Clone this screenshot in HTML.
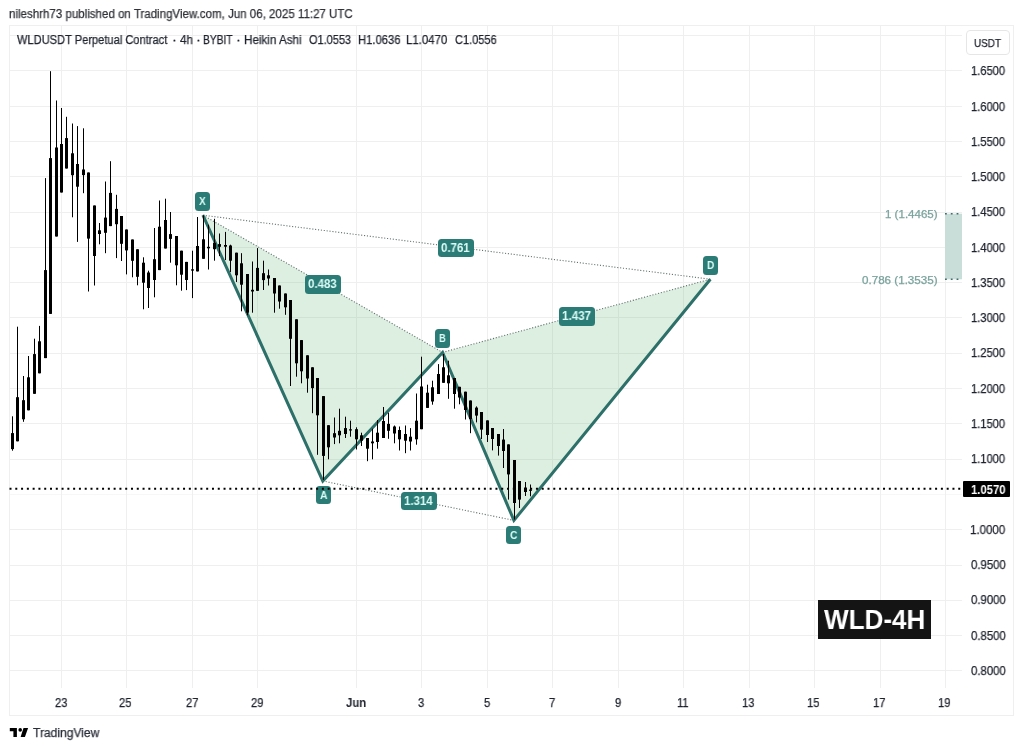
<!DOCTYPE html>
<html><head><meta charset="utf-8"><style>
html,body{margin:0;padding:0;background:#fff;}
body{width:1024px;height:750px;position:relative;overflow:hidden;font-family:"Liberation Sans",sans-serif;}
div{font-family:"Liberation Sans",sans-serif;will-change:transform;}
.lb{position:absolute;background:#2b7b76;border-radius:3.5px;}
</style></head><body>

<svg width="1024" height="750" viewBox="0 0 1024 750" style="position:absolute;left:0;top:0">
<rect x="9.5" y="25.5" width="1004.0" height="690.0" fill="none" stroke="#efefef" stroke-width="1"/>
<defs><clipPath id="pc"><rect x="10" y="26" width="952" height="662"/></clipPath></defs>
<line x1="10" x2="962" y1="35.5" y2="35.5" stroke="#efefef" stroke-width="1"/>
<line x1="10" x2="962" y1="70.5" y2="70.5" stroke="#efefef" stroke-width="1"/>
<line x1="10" x2="962" y1="106.5" y2="106.5" stroke="#efefef" stroke-width="1"/>
<line x1="10" x2="962" y1="141.5" y2="141.5" stroke="#efefef" stroke-width="1"/>
<line x1="10" x2="962" y1="176.5" y2="176.5" stroke="#efefef" stroke-width="1"/>
<line x1="10" x2="962" y1="212.5" y2="212.5" stroke="#efefef" stroke-width="1"/>
<line x1="10" x2="962" y1="247.5" y2="247.5" stroke="#efefef" stroke-width="1"/>
<line x1="10" x2="962" y1="282.5" y2="282.5" stroke="#efefef" stroke-width="1"/>
<line x1="10" x2="962" y1="317.5" y2="317.5" stroke="#efefef" stroke-width="1"/>
<line x1="10" x2="962" y1="353.5" y2="353.5" stroke="#efefef" stroke-width="1"/>
<line x1="10" x2="962" y1="388.5" y2="388.5" stroke="#efefef" stroke-width="1"/>
<line x1="10" x2="962" y1="423.5" y2="423.5" stroke="#efefef" stroke-width="1"/>
<line x1="10" x2="962" y1="459.5" y2="459.5" stroke="#efefef" stroke-width="1"/>
<line x1="10" x2="962" y1="494.5" y2="494.5" stroke="#f7f7f7" stroke-width="1"/>
<line x1="10" x2="962" y1="529.5" y2="529.5" stroke="#efefef" stroke-width="1"/>
<line x1="10" x2="962" y1="565.5" y2="565.5" stroke="#efefef" stroke-width="1"/>
<line x1="10" x2="962" y1="600.5" y2="600.5" stroke="#efefef" stroke-width="1"/>
<line x1="10" x2="962" y1="635.5" y2="635.5" stroke="#efefef" stroke-width="1"/>
<line x1="10" x2="962" y1="670.5" y2="670.5" stroke="#efefef" stroke-width="1"/>
<line x1="61.5" x2="61.5" y1="26" y2="688" stroke="#efefef" stroke-width="1"/>
<line x1="126.5" x2="126.5" y1="26" y2="688" stroke="#efefef" stroke-width="1"/>
<line x1="192.5" x2="192.5" y1="26" y2="688" stroke="#efefef" stroke-width="1"/>
<line x1="257.5" x2="257.5" y1="26" y2="688" stroke="#efefef" stroke-width="1"/>
<line x1="356.5" x2="356.5" y1="26" y2="688" stroke="#efefef" stroke-width="1"/>
<line x1="421.5" x2="421.5" y1="26" y2="688" stroke="#efefef" stroke-width="1"/>
<line x1="487.5" x2="487.5" y1="26" y2="688" stroke="#efefef" stroke-width="1"/>
<line x1="552.5" x2="552.5" y1="26" y2="688" stroke="#efefef" stroke-width="1"/>
<line x1="618.5" x2="618.5" y1="26" y2="688" stroke="#efefef" stroke-width="1"/>
<line x1="683.5" x2="683.5" y1="26" y2="688" stroke="#efefef" stroke-width="1"/>
<line x1="749.5" x2="749.5" y1="26" y2="688" stroke="#efefef" stroke-width="1"/>
<line x1="814.5" x2="814.5" y1="26" y2="688" stroke="#efefef" stroke-width="1"/>
<line x1="880.5" x2="880.5" y1="26" y2="688" stroke="#efefef" stroke-width="1"/>
<line x1="945.5" x2="945.5" y1="26" y2="688" stroke="#efefef" stroke-width="1"/>
<g clip-path="url(#pc)">
<polygon points="202.9,215.2 322.8,481.0 442.6,352.4" fill="rgba(100,180,120,0.22)"/>
<polygon points="442.6,352.4 513.9,520.4 710.4,279.2" fill="rgba(100,180,120,0.22)"/>
<line x1="202.9" y1="215.2" x2="442.6" y2="352.4" stroke="#5f716e" stroke-width="1.1" stroke-dasharray="1.1 1.8"/>
<line x1="442.6" y1="352.4" x2="710.4" y2="279.2" stroke="#5f716e" stroke-width="1.1" stroke-dasharray="1.1 1.8"/>
<line x1="202.9" y1="215.2" x2="710.4" y2="279.2" stroke="#5f716e" stroke-width="1.1" stroke-dasharray="1.1 1.8"/>
<line x1="322.8" y1="481.0" x2="513.9" y2="520.4" stroke="#5f716e" stroke-width="1.1" stroke-dasharray="1.1 1.8"/>
<polyline points="202.9,215.2 322.8,481.0 442.6,352.4 513.9,520.4 710.4,279.2" fill="none" stroke="#2c7069" stroke-width="3" stroke-linejoin="miter"/>
<line x1="12.5" x2="12.5" y1="416.3" y2="450.7" stroke="#000" stroke-width="1"/>
<rect x="11" y="433.1" width="3" height="16.0" fill="#000"/>
<line x1="17.5" x2="17.5" y1="326.7" y2="441.3" stroke="#000" stroke-width="1"/>
<rect x="16" y="397.2" width="3" height="44.1" fill="#000"/>
<line x1="23.5" x2="23.5" y1="376.0" y2="421.8" stroke="#000" stroke-width="1"/>
<rect x="22" y="400.2" width="3" height="19.1" fill="#000"/>
<line x1="28.5" x2="28.5" y1="356.0" y2="410.3" stroke="#000" stroke-width="1"/>
<rect x="27" y="377.3" width="3" height="33.0" fill="#000"/>
<line x1="34.5" x2="34.5" y1="338.7" y2="393.8" stroke="#000" stroke-width="1"/>
<rect x="33" y="354.1" width="3" height="39.7" fill="#000"/>
<line x1="39.5" x2="39.5" y1="325.9" y2="373.3" stroke="#000" stroke-width="1"/>
<rect x="38" y="341.3" width="3" height="32.0" fill="#000"/>
<line x1="45.5" x2="45.5" y1="178.1" y2="358.1" stroke="#000" stroke-width="1"/>
<rect x="44" y="270.1" width="3" height="88.0" fill="#000"/>
<line x1="50.5" x2="50.5" y1="71.2" y2="313.9" stroke="#000" stroke-width="1"/>
<rect x="49" y="158.1" width="3" height="155.8" fill="#000"/>
<line x1="56.5" x2="56.5" y1="100.5" y2="236.5" stroke="#000" stroke-width="1"/>
<rect x="55" y="147.5" width="3" height="89.0" fill="#000"/>
<line x1="61.5" x2="61.5" y1="108.0" y2="192.5" stroke="#000" stroke-width="1"/>
<rect x="60" y="144.0" width="3" height="48.5" fill="#000"/>
<line x1="66.5" x2="66.5" y1="116.8" y2="168.5" stroke="#000" stroke-width="1"/>
<rect x="65" y="138.1" width="3" height="30.4" fill="#000"/>
<line x1="72.5" x2="72.5" y1="123.5" y2="217.3" stroke="#000" stroke-width="1"/>
<rect x="71" y="153.3" width="3" height="21.9" fill="#000"/>
<line x1="77.5" x2="77.5" y1="126.1" y2="241.9" stroke="#000" stroke-width="1"/>
<rect x="76" y="164.0" width="3" height="22.7" fill="#000"/>
<line x1="83.5" x2="83.5" y1="128.3" y2="193.2" stroke="#000" stroke-width="1"/>
<rect x="82" y="169.5" width="3" height="5.6" fill="#000"/>
<line x1="88.5" x2="88.5" y1="172.5" y2="291.5" stroke="#000" stroke-width="1"/>
<rect x="87" y="172.5" width="3" height="66.1" fill="#000"/>
<line x1="94.5" x2="94.5" y1="205.5" y2="285.5" stroke="#000" stroke-width="1"/>
<rect x="93" y="205.5" width="3" height="50.5" fill="#000"/>
<line x1="99.5" x2="99.5" y1="223.0" y2="244.3" stroke="#000" stroke-width="1"/>
<rect x="98" y="230.3" width="3" height="3.7" fill="#000"/>
<line x1="105.5" x2="105.5" y1="181.5" y2="253.2" stroke="#000" stroke-width="1"/>
<rect x="104" y="217.6" width="3" height="15.2" fill="#000"/>
<line x1="110.5" x2="110.5" y1="161.2" y2="226.1" stroke="#000" stroke-width="1"/>
<rect x="109" y="192.9" width="3" height="33.2" fill="#000"/>
<line x1="116.5" x2="116.5" y1="194.8" y2="258.1" stroke="#000" stroke-width="1"/>
<rect x="115" y="208.9" width="3" height="15.3" fill="#000"/>
<line x1="121.5" x2="121.5" y1="216.0" y2="261.0" stroke="#000" stroke-width="1"/>
<rect x="120" y="216.0" width="3" height="27.8" fill="#000"/>
<line x1="126.5" x2="126.5" y1="229.5" y2="274.4" stroke="#000" stroke-width="1"/>
<rect x="125" y="229.5" width="3" height="20.9" fill="#000"/>
<line x1="132.5" x2="132.5" y1="239.5" y2="277.3" stroke="#000" stroke-width="1"/>
<rect x="131" y="239.5" width="3" height="21.3" fill="#000"/>
<line x1="137.5" x2="137.5" y1="249.3" y2="285.3" stroke="#000" stroke-width="1"/>
<rect x="136" y="249.3" width="3" height="27.5" fill="#000"/>
<line x1="143.5" x2="143.5" y1="257.3" y2="309.3" stroke="#000" stroke-width="1"/>
<rect x="142" y="262.7" width="3" height="20.0" fill="#000"/>
<line x1="148.5" x2="148.5" y1="270.7" y2="308.0" stroke="#000" stroke-width="1"/>
<rect x="147" y="272.5" width="3" height="15.5" fill="#000"/>
<line x1="154.5" x2="154.5" y1="228.0" y2="297.3" stroke="#000" stroke-width="1"/>
<rect x="153" y="259.2" width="3" height="20.8" fill="#000"/>
<line x1="159.5" x2="159.5" y1="200.5" y2="270.1" stroke="#000" stroke-width="1"/>
<rect x="158" y="226.7" width="3" height="43.4" fill="#000"/>
<line x1="165.5" x2="165.5" y1="198.7" y2="248.5" stroke="#000" stroke-width="1"/>
<rect x="164" y="220.0" width="3" height="28.5" fill="#000"/>
<line x1="170.5" x2="170.5" y1="212.0" y2="262.7" stroke="#000" stroke-width="1"/>
<rect x="169" y="234.1" width="3" height="4.8" fill="#000"/>
<line x1="176.5" x2="176.5" y1="236.0" y2="285.3" stroke="#000" stroke-width="1"/>
<rect x="175" y="236.0" width="3" height="29.3" fill="#000"/>
<line x1="181.5" x2="181.5" y1="250.7" y2="290.7" stroke="#000" stroke-width="1"/>
<rect x="180" y="250.7" width="3" height="24.0" fill="#000"/>
<line x1="186.5" x2="186.5" y1="261.9" y2="290.1" stroke="#000" stroke-width="1"/>
<rect x="185" y="261.9" width="3" height="18.1" fill="#000"/>
<line x1="192.5" x2="192.5" y1="250.7" y2="298.1" stroke="#000" stroke-width="1"/>
<rect x="191" y="269.3" width="3" height="1.3" fill="#000"/>
<line x1="197.5" x2="197.5" y1="217.0" y2="271.4" stroke="#000" stroke-width="1"/>
<rect x="196" y="246.0" width="3" height="25.4" fill="#000"/>
<line x1="203.5" x2="203.5" y1="215.3" y2="258.8" stroke="#000" stroke-width="1"/>
<rect x="202" y="239.3" width="3" height="19.5" fill="#000"/>
<line x1="208.5" x2="208.5" y1="224.7" y2="269.5" stroke="#000" stroke-width="1"/>
<rect x="207" y="246.8" width="3" height="1.5" fill="#000"/>
<line x1="214.5" x2="214.5" y1="218.8" y2="260.7" stroke="#000" stroke-width="1"/>
<rect x="213" y="242.8" width="3" height="6.4" fill="#000"/>
<line x1="219.5" x2="219.5" y1="233.5" y2="256.1" stroke="#000" stroke-width="1"/>
<rect x="218" y="244.1" width="3" height="2.7" fill="#000"/>
<line x1="225.5" x2="225.5" y1="231.9" y2="260.1" stroke="#000" stroke-width="1"/>
<rect x="224" y="245.0" width="3" height="1.7" fill="#000"/>
<line x1="230.5" x2="230.5" y1="244.7" y2="272.1" stroke="#000" stroke-width="1"/>
<rect x="229" y="245.5" width="3" height="15.2" fill="#000"/>
<line x1="236.5" x2="236.5" y1="252.7" y2="282.0" stroke="#000" stroke-width="1"/>
<rect x="235" y="252.7" width="3" height="22.6" fill="#000"/>
<line x1="241.5" x2="241.5" y1="253.2" y2="311.3" stroke="#000" stroke-width="1"/>
<rect x="240" y="263.3" width="3" height="21.4" fill="#000"/>
<line x1="247.5" x2="247.5" y1="274.0" y2="315.3" stroke="#000" stroke-width="1"/>
<rect x="246" y="274.0" width="3" height="38.7" fill="#000"/>
<line x1="252.5" x2="252.5" y1="261.5" y2="312.7" stroke="#000" stroke-width="1"/>
<rect x="251" y="289.8" width="3" height="1.7" fill="#000"/>
<line x1="257.5" x2="257.5" y1="248.1" y2="290.8" stroke="#000" stroke-width="1"/>
<rect x="256" y="267.9" width="3" height="22.9" fill="#000"/>
<line x1="263.5" x2="263.5" y1="260.7" y2="290.0" stroke="#000" stroke-width="1"/>
<rect x="262" y="273.2" width="3" height="6.9" fill="#000"/>
<line x1="268.5" x2="268.5" y1="269.5" y2="285.5" stroke="#000" stroke-width="1"/>
<rect x="267" y="275.3" width="3" height="3.2" fill="#000"/>
<line x1="274.5" x2="274.5" y1="278.0" y2="312.7" stroke="#000" stroke-width="1"/>
<rect x="273" y="278.0" width="3" height="15.5" fill="#000"/>
<line x1="279.5" x2="279.5" y1="285.5" y2="308.7" stroke="#000" stroke-width="1"/>
<rect x="278" y="285.5" width="3" height="16.0" fill="#000"/>
<line x1="285.5" x2="285.5" y1="293.5" y2="314.8" stroke="#000" stroke-width="1"/>
<rect x="284" y="293.5" width="3" height="13.8" fill="#000"/>
<line x1="290.5" x2="290.5" y1="300.0" y2="386.0" stroke="#000" stroke-width="1"/>
<rect x="289" y="300.0" width="3" height="38.8" fill="#000"/>
<line x1="296.5" x2="296.5" y1="319.3" y2="376.7" stroke="#000" stroke-width="1"/>
<rect x="295" y="319.3" width="3" height="44.0" fill="#000"/>
<line x1="301.5" x2="301.5" y1="340.1" y2="383.3" stroke="#000" stroke-width="1"/>
<rect x="300" y="340.1" width="3" height="31.2" fill="#000"/>
<line x1="307.5" x2="307.5" y1="355.3" y2="392.7" stroke="#000" stroke-width="1"/>
<rect x="306" y="355.3" width="3" height="23.2" fill="#000"/>
<line x1="312.5" x2="312.5" y1="367.3" y2="413.2" stroke="#000" stroke-width="1"/>
<rect x="311" y="367.3" width="3" height="20.8" fill="#000"/>
<line x1="317.5" x2="317.5" y1="378.0" y2="454.8" stroke="#000" stroke-width="1"/>
<rect x="316" y="378.0" width="3" height="37.3" fill="#000"/>
<line x1="323.5" x2="323.5" y1="396.1" y2="479.9" stroke="#000" stroke-width="1"/>
<rect x="322" y="396.1" width="3" height="59.8" fill="#000"/>
<line x1="328.5" x2="328.5" y1="425.2" y2="459.3" stroke="#000" stroke-width="1"/>
<rect x="327" y="425.2" width="3" height="22.1" fill="#000"/>
<line x1="334.5" x2="334.5" y1="417.5" y2="444.1" stroke="#000" stroke-width="1"/>
<rect x="333" y="433.2" width="3" height="4.3" fill="#000"/>
<line x1="339.5" x2="339.5" y1="408.7" y2="443.3" stroke="#000" stroke-width="1"/>
<rect x="338" y="430.8" width="3" height="4.5" fill="#000"/>
<line x1="345.5" x2="345.5" y1="416.7" y2="438.0" stroke="#000" stroke-width="1"/>
<rect x="344" y="428.1" width="3" height="5.9" fill="#000"/>
<line x1="350.5" x2="350.5" y1="420.7" y2="436.7" stroke="#000" stroke-width="1"/>
<rect x="349" y="429.3" width="3" height="1.2" fill="#000"/>
<line x1="356.5" x2="356.5" y1="427.3" y2="449.5" stroke="#000" stroke-width="1"/>
<rect x="355" y="429.2" width="3" height="10.1" fill="#000"/>
<line x1="361.5" x2="361.5" y1="432.7" y2="446.0" stroke="#000" stroke-width="1"/>
<rect x="360" y="435.3" width="3" height="5.4" fill="#000"/>
<line x1="367.5" x2="367.5" y1="438.0" y2="461.2" stroke="#000" stroke-width="1"/>
<rect x="366" y="438.0" width="3" height="10.7" fill="#000"/>
<line x1="372.5" x2="372.5" y1="428.7" y2="459.3" stroke="#000" stroke-width="1"/>
<rect x="371" y="441.5" width="3" height="1.8" fill="#000"/>
<line x1="377.5" x2="377.5" y1="420.0" y2="448.7" stroke="#000" stroke-width="1"/>
<rect x="376" y="432.7" width="3" height="9.3" fill="#000"/>
<line x1="383.5" x2="383.5" y1="407.0" y2="438.0" stroke="#000" stroke-width="1"/>
<rect x="382" y="421.0" width="3" height="17.0" fill="#000"/>
<line x1="388.5" x2="388.5" y1="412.7" y2="438.8" stroke="#000" stroke-width="1"/>
<rect x="387" y="423.9" width="3" height="6.9" fill="#000"/>
<line x1="394.5" x2="394.5" y1="425.5" y2="443.3" stroke="#000" stroke-width="1"/>
<rect x="393" y="426.5" width="3" height="7.0" fill="#000"/>
<line x1="399.5" x2="399.5" y1="426.5" y2="450.5" stroke="#000" stroke-width="1"/>
<rect x="398" y="430.0" width="3" height="9.3" fill="#000"/>
<line x1="405.5" x2="405.5" y1="425.5" y2="453.2" stroke="#000" stroke-width="1"/>
<rect x="404" y="434.0" width="3" height="6.7" fill="#000"/>
<line x1="410.5" x2="410.5" y1="428.1" y2="450.5" stroke="#000" stroke-width="1"/>
<rect x="409" y="436.7" width="3" height="4.8" fill="#000"/>
<line x1="416.5" x2="416.5" y1="393.5" y2="444.7" stroke="#000" stroke-width="1"/>
<rect x="415" y="420.7" width="3" height="18.6" fill="#000"/>
<line x1="421.5" x2="421.5" y1="356.7" y2="429.2" stroke="#000" stroke-width="1"/>
<rect x="420" y="386.5" width="3" height="42.7" fill="#000"/>
<line x1="427.5" x2="427.5" y1="384.7" y2="407.9" stroke="#000" stroke-width="1"/>
<rect x="426" y="392.7" width="3" height="15.2" fill="#000"/>
<line x1="432.5" x2="432.5" y1="380.7" y2="404.7" stroke="#000" stroke-width="1"/>
<rect x="431" y="387.3" width="3" height="14.2" fill="#000"/>
<line x1="438.5" x2="438.5" y1="364.1" y2="394.0" stroke="#000" stroke-width="1"/>
<rect x="437" y="374.0" width="3" height="20.0" fill="#000"/>
<line x1="443.5" x2="443.5" y1="354.0" y2="382.8" stroke="#000" stroke-width="1"/>
<rect x="442" y="367.3" width="3" height="15.5" fill="#000"/>
<line x1="448.5" x2="448.5" y1="360.7" y2="398.8" stroke="#000" stroke-width="1"/>
<rect x="447" y="375.3" width="3" height="8.0" fill="#000"/>
<line x1="454.5" x2="454.5" y1="378.0" y2="408.7" stroke="#000" stroke-width="1"/>
<rect x="453" y="378.0" width="3" height="16.0" fill="#000"/>
<line x1="459.5" x2="459.5" y1="386.8" y2="404.3" stroke="#000" stroke-width="1"/>
<rect x="458" y="386.8" width="3" height="10.7" fill="#000"/>
<line x1="465.5" x2="465.5" y1="391.7" y2="419.5" stroke="#000" stroke-width="1"/>
<rect x="464" y="391.7" width="3" height="18.3" fill="#000"/>
<line x1="470.5" x2="470.5" y1="400.5" y2="433.2" stroke="#000" stroke-width="1"/>
<rect x="469" y="400.5" width="3" height="18.5" fill="#000"/>
<line x1="476.5" x2="476.5" y1="406.4" y2="422.4" stroke="#000" stroke-width="1"/>
<rect x="475" y="407.6" width="3" height="8.0" fill="#000"/>
<line x1="481.5" x2="481.5" y1="412.0" y2="439.0" stroke="#000" stroke-width="1"/>
<rect x="480" y="412.0" width="3" height="17.6" fill="#000"/>
<line x1="487.5" x2="487.5" y1="420.4" y2="442.0" stroke="#000" stroke-width="1"/>
<rect x="486" y="420.4" width="3" height="14.6" fill="#000"/>
<line x1="492.5" x2="492.5" y1="428.0" y2="450.4" stroke="#000" stroke-width="1"/>
<rect x="491" y="428.0" width="3" height="11.0" fill="#000"/>
<line x1="498.5" x2="498.5" y1="434.0" y2="455.6" stroke="#000" stroke-width="1"/>
<rect x="497" y="434.0" width="3" height="12.0" fill="#000"/>
<line x1="503.5" x2="503.5" y1="429.0" y2="468.0" stroke="#000" stroke-width="1"/>
<rect x="502" y="439.6" width="3" height="11.4" fill="#000"/>
<line x1="508.5" x2="508.5" y1="444.4" y2="499.6" stroke="#000" stroke-width="1"/>
<rect x="507" y="444.4" width="3" height="30.0" fill="#000"/>
<line x1="514.5" x2="514.5" y1="460.0" y2="519.5" stroke="#000" stroke-width="1"/>
<rect x="513" y="460.0" width="3" height="43.0" fill="#000"/>
<line x1="519.5" x2="519.5" y1="481.0" y2="508.0" stroke="#000" stroke-width="1"/>
<rect x="518" y="481.0" width="3" height="18.6" fill="#000"/>
<line x1="525.5" x2="525.5" y1="482.0" y2="496.0" stroke="#000" stroke-width="1"/>
<rect x="524" y="487.6" width="3" height="4.4" fill="#000"/>
<line x1="530.5" x2="530.5" y1="484.5" y2="496.3" stroke="#000" stroke-width="1"/>
<rect x="529" y="489.6" width="3" height="1.2" fill="#000"/>
</g>
<rect x="945" y="213.7" width="17" height="65.6" fill="#c9ddd9"/>
<line x1="945" x2="960" y1="213.7" y2="213.7" stroke="#3f6e69" stroke-width="1.6" stroke-dasharray="1.8 4"/>
<line x1="945" x2="960" y1="279.2" y2="279.2" stroke="#3f6e69" stroke-width="1.6" stroke-dasharray="1.8 4"/>
<path d="M9.8 727.9 H16.9 V737 H13.4 V731.3 H9.8 Z" fill="#000"/>
<circle cx="20.2" cy="729.9" r="1.8" fill="#000"/>
<path d="M23.5 727.9 H28.1 L24.9 737 H20.6 Z" fill="#000"/>
</svg>
<div style="position:absolute;left:8.94px;top:8.14px;font-size:12px;line-height:12px;font-weight:normal;color:#303238;white-space:nowrap;transform:scaleX(0.9609);transform-origin:0 0;-webkit-text-stroke:0.25px #303238;">nileshrh73 published on TradingView.com, Jun 06, 2025 11:27 UTC</div>
<div style="position:absolute;left:17.26px;top:33.74px;font-size:12px;line-height:12px;font-weight:normal;color:#1e222d;white-space:nowrap;transform:scaleX(0.9244);transform-origin:0 0;-webkit-text-stroke:0.25px #1e222d;">WLDUSDT Perpetual Contract</div>
<div style="position:absolute;left:171.78px;top:33.74px;font-size:12px;line-height:12px;font-weight:normal;color:#1e222d;white-space:nowrap;transform:scaleX(1.2153);transform-origin:0 0;-webkit-text-stroke:0.25px #1e222d;">·</div>
<div style="position:absolute;left:195.58px;top:33.74px;font-size:12px;line-height:12px;font-weight:normal;color:#1e222d;white-space:nowrap;transform:scaleX(1.2153);transform-origin:0 0;-webkit-text-stroke:0.25px #1e222d;">·</div>
<div style="position:absolute;left:236.28px;top:33.74px;font-size:12px;line-height:12px;font-weight:normal;color:#1e222d;white-space:nowrap;transform:scaleX(1.2153);transform-origin:0 0;-webkit-text-stroke:0.25px #1e222d;">·</div>
<div style="position:absolute;left:179.75px;top:33.74px;font-size:12px;line-height:12px;font-weight:normal;color:#1e222d;white-space:nowrap;transform:scaleX(0.9584);transform-origin:0 0;-webkit-text-stroke:0.25px #1e222d;">4h</div>
<div style="position:absolute;left:203.06px;top:33.74px;font-size:12px;line-height:12px;font-weight:normal;color:#1e222d;white-space:nowrap;transform:scaleX(0.8528);transform-origin:0 0;-webkit-text-stroke:0.25px #1e222d;">BYBIT</div>
<div style="position:absolute;left:243.94px;top:33.74px;font-size:12px;line-height:12px;font-weight:normal;color:#1e222d;white-space:nowrap;transform:scaleX(0.9709);transform-origin:0 0;-webkit-text-stroke:0.25px #1e222d;">Heikin Ashi</div>
<div style="position:absolute;left:308.68px;top:33.74px;font-size:12px;line-height:12px;font-weight:normal;color:#1e222d;white-space:nowrap;transform:scaleX(0.9143);transform-origin:0 0;-webkit-text-stroke:0.25px #1e222d;">O1.0553</div>
<div style="position:absolute;left:357.78px;top:33.74px;font-size:12px;line-height:12px;font-weight:normal;color:#1e222d;white-space:nowrap;transform:scaleX(0.9368);transform-origin:0 0;-webkit-text-stroke:0.25px #1e222d;">H1.0636</div>
<div style="position:absolute;left:405.96px;top:33.74px;font-size:12px;line-height:12px;font-weight:normal;color:#1e222d;white-space:nowrap;transform:scaleX(0.9514);transform-origin:0 0;-webkit-text-stroke:0.25px #1e222d;">L1.0470</div>
<div style="position:absolute;left:454.65px;top:33.74px;font-size:12px;line-height:12px;font-weight:normal;color:#1e222d;white-space:nowrap;transform:scaleX(0.9174);transform-origin:0 0;-webkit-text-stroke:0.25px #1e222d;">C1.0556</div>
<div style="position:absolute;left:966px;top:30px;width:44px;height:24.5px;border:1px solid #e6e6e6;border-radius:4px;box-sizing:border-box;"></div>
<div style="position:absolute;left:974.44px;top:36.98px;font-size:11.6px;line-height:11.6px;font-weight:normal;color:#1e222d;white-space:nowrap;transform:scaleX(0.8548);transform-origin:0 0;-webkit-text-stroke:0.25px #1e222d;">USDT</div>
<div style="position:absolute;left:971.25px;top:65.31px;font-size:12px;line-height:12px;font-weight:normal;color:#1e222d;white-space:nowrap;transform:scaleX(0.9284);transform-origin:0 0;-webkit-text-stroke:0.25px #1e222d;">1.6500</div>
<div style="position:absolute;left:971.25px;top:100.58px;font-size:12px;line-height:12px;font-weight:normal;color:#1e222d;white-space:nowrap;transform:scaleX(0.9284);transform-origin:0 0;-webkit-text-stroke:0.25px #1e222d;">1.6000</div>
<div style="position:absolute;left:971.25px;top:135.85px;font-size:12px;line-height:12px;font-weight:normal;color:#1e222d;white-space:nowrap;transform:scaleX(0.9284);transform-origin:0 0;-webkit-text-stroke:0.25px #1e222d;">1.5500</div>
<div style="position:absolute;left:971.25px;top:171.12px;font-size:12px;line-height:12px;font-weight:normal;color:#1e222d;white-space:nowrap;transform:scaleX(0.9284);transform-origin:0 0;-webkit-text-stroke:0.25px #1e222d;">1.5000</div>
<div style="position:absolute;left:971.25px;top:206.39px;font-size:12px;line-height:12px;font-weight:normal;color:#1e222d;white-space:nowrap;transform:scaleX(0.9284);transform-origin:0 0;-webkit-text-stroke:0.25px #1e222d;">1.4500</div>
<div style="position:absolute;left:971.25px;top:241.66px;font-size:12px;line-height:12px;font-weight:normal;color:#1e222d;white-space:nowrap;transform:scaleX(0.9284);transform-origin:0 0;-webkit-text-stroke:0.25px #1e222d;">1.4000</div>
<div style="position:absolute;left:971.25px;top:276.93px;font-size:12px;line-height:12px;font-weight:normal;color:#1e222d;white-space:nowrap;transform:scaleX(0.9284);transform-origin:0 0;-webkit-text-stroke:0.25px #1e222d;">1.3500</div>
<div style="position:absolute;left:971.25px;top:312.20px;font-size:12px;line-height:12px;font-weight:normal;color:#1e222d;white-space:nowrap;transform:scaleX(0.9284);transform-origin:0 0;-webkit-text-stroke:0.25px #1e222d;">1.3000</div>
<div style="position:absolute;left:971.25px;top:347.47px;font-size:12px;line-height:12px;font-weight:normal;color:#1e222d;white-space:nowrap;transform:scaleX(0.9284);transform-origin:0 0;-webkit-text-stroke:0.25px #1e222d;">1.2500</div>
<div style="position:absolute;left:971.25px;top:382.74px;font-size:12px;line-height:12px;font-weight:normal;color:#1e222d;white-space:nowrap;transform:scaleX(0.9284);transform-origin:0 0;-webkit-text-stroke:0.25px #1e222d;">1.2000</div>
<div style="position:absolute;left:971.25px;top:418.01px;font-size:12px;line-height:12px;font-weight:normal;color:#1e222d;white-space:nowrap;transform:scaleX(0.9284);transform-origin:0 0;-webkit-text-stroke:0.25px #1e222d;">1.1500</div>
<div style="position:absolute;left:971.25px;top:453.28px;font-size:12px;line-height:12px;font-weight:normal;color:#1e222d;white-space:nowrap;transform:scaleX(0.9284);transform-origin:0 0;-webkit-text-stroke:0.25px #1e222d;">1.1000</div>
<div style="position:absolute;left:970.12px;top:523.82px;font-size:12px;line-height:12px;font-weight:normal;color:#1e222d;white-space:nowrap;transform:scaleX(0.9596);transform-origin:0 0;-webkit-text-stroke:0.25px #1e222d;">1.0000</div>
<div style="position:absolute;left:970.56px;top:559.09px;font-size:12px;line-height:12px;font-weight:normal;color:#1e222d;white-space:nowrap;transform:scaleX(0.9477);transform-origin:0 0;-webkit-text-stroke:0.25px #1e222d;">0.9500</div>
<div style="position:absolute;left:970.56px;top:594.36px;font-size:12px;line-height:12px;font-weight:normal;color:#1e222d;white-space:nowrap;transform:scaleX(0.9477);transform-origin:0 0;-webkit-text-stroke:0.25px #1e222d;">0.9000</div>
<div style="position:absolute;left:970.56px;top:629.63px;font-size:12px;line-height:12px;font-weight:normal;color:#1e222d;white-space:nowrap;transform:scaleX(0.9477);transform-origin:0 0;-webkit-text-stroke:0.25px #1e222d;">0.8500</div>
<div style="position:absolute;left:970.56px;top:664.90px;font-size:12px;line-height:12px;font-weight:normal;color:#1e222d;white-space:nowrap;transform:scaleX(0.9477);transform-origin:0 0;-webkit-text-stroke:0.25px #1e222d;">0.8000</div>
<div style="position:absolute;left:54.51px;top:697.04px;font-size:12px;line-height:12px;font-weight:normal;color:#1e222d;white-space:nowrap;transform:scaleX(0.9300);transform-origin:0 0;-webkit-text-stroke:0.25px #1e222d;">23</div>
<div style="position:absolute;left:119.49px;top:697.04px;font-size:12px;line-height:12px;font-weight:normal;color:#1e222d;white-space:nowrap;transform:scaleX(0.9300);transform-origin:0 0;-webkit-text-stroke:0.25px #1e222d;">25</div>
<div style="position:absolute;left:185.55px;top:697.04px;font-size:12px;line-height:12px;font-weight:normal;color:#1e222d;white-space:nowrap;transform:scaleX(0.9300);transform-origin:0 0;-webkit-text-stroke:0.25px #1e222d;">27</div>
<div style="position:absolute;left:250.53px;top:697.04px;font-size:12px;line-height:12px;font-weight:normal;color:#1e222d;white-space:nowrap;transform:scaleX(0.9300);transform-origin:0 0;-webkit-text-stroke:0.25px #1e222d;">29</div>
<div style="position:absolute;left:345.93px;top:697.04px;font-size:12px;line-height:12px;font-weight:bold;color:#1e222d;white-space:nowrap;transform:scaleX(0.9455);transform-origin:0 0;">Jun</div>
<div style="position:absolute;left:417.68px;top:697.04px;font-size:12px;line-height:12px;font-weight:normal;color:#1e222d;white-space:nowrap;transform:scaleX(0.9300);transform-origin:0 0;-webkit-text-stroke:0.25px #1e222d;">3</div>
<div style="position:absolute;left:483.65px;top:697.04px;font-size:12px;line-height:12px;font-weight:normal;color:#1e222d;white-space:nowrap;transform:scaleX(0.9300);transform-origin:0 0;-webkit-text-stroke:0.25px #1e222d;">5</div>
<div style="position:absolute;left:548.64px;top:697.04px;font-size:12px;line-height:12px;font-weight:normal;color:#1e222d;white-space:nowrap;transform:scaleX(0.9300);transform-origin:0 0;-webkit-text-stroke:0.25px #1e222d;">7</div>
<div style="position:absolute;left:614.65px;top:697.04px;font-size:12px;line-height:12px;font-weight:normal;color:#1e222d;white-space:nowrap;transform:scaleX(0.9300);transform-origin:0 0;-webkit-text-stroke:0.25px #1e222d;">9</div>
<div style="position:absolute;left:676.80px;top:697.04px;font-size:12px;line-height:12px;font-weight:normal;color:#1e222d;white-space:nowrap;transform:scaleX(0.9300);transform-origin:0 0;-webkit-text-stroke:0.25px #1e222d;">11</div>
<div style="position:absolute;left:742.36px;top:697.04px;font-size:12px;line-height:12px;font-weight:normal;color:#1e222d;white-space:nowrap;transform:scaleX(0.9300);transform-origin:0 0;-webkit-text-stroke:0.25px #1e222d;">13</div>
<div style="position:absolute;left:807.35px;top:697.04px;font-size:12px;line-height:12px;font-weight:normal;color:#1e222d;white-space:nowrap;transform:scaleX(0.9300);transform-origin:0 0;-webkit-text-stroke:0.25px #1e222d;">15</div>
<div style="position:absolute;left:873.40px;top:697.04px;font-size:12px;line-height:12px;font-weight:normal;color:#1e222d;white-space:nowrap;transform:scaleX(0.9300);transform-origin:0 0;-webkit-text-stroke:0.25px #1e222d;">17</div>
<div style="position:absolute;left:938.38px;top:697.04px;font-size:12px;line-height:12px;font-weight:normal;color:#1e222d;white-space:nowrap;transform:scaleX(0.9300);transform-origin:0 0;-webkit-text-stroke:0.25px #1e222d;">19</div>
<div style="position:absolute;left:963.2px;top:481px;width:47px;height:16px;background:#000;border-radius:1px;"></div>
<div style="position:absolute;left:971.20px;top:483.56px;font-size:12.8px;line-height:12.8px;font-weight:bold;color:#fff;white-space:nowrap;transform:scaleX(0.8827);transform-origin:0 0;">1.0570</div>
<div class="lb" style="left:194.9px;top:191.9px;width:15.1px;height:19.0px;"></div><div style="position:absolute;left:199.07px;top:196.07px;font-size:11.5px;line-height:11.5px;font-weight:bold;color:#dcfcf7;white-space:nowrap;transform:scaleX(0.8802);transform-origin:0 0;">X</div>
<div class="lb" style="left:315.7px;top:486.2px;width:15.1px;height:18.2px;"></div><div style="position:absolute;left:319.50px;top:490.37px;font-size:11.5px;line-height:11.5px;font-weight:bold;color:#dcfcf7;white-space:nowrap;transform:scaleX(0.9060);transform-origin:0 0;">A</div>
<div class="lb" style="left:435.0px;top:329.0px;width:14.8px;height:18.7px;"></div><div style="position:absolute;left:438.98px;top:333.17px;font-size:11.5px;line-height:11.5px;font-weight:bold;color:#dcfcf7;white-space:nowrap;transform:scaleX(0.8010);transform-origin:0 0;">B</div>
<div class="lb" style="left:506.1px;top:525.8px;width:15.4px;height:18.4px;"></div><div style="position:absolute;left:510.03px;top:529.97px;font-size:11.5px;line-height:11.5px;font-weight:bold;color:#dcfcf7;white-space:nowrap;transform:scaleX(0.8916);transform-origin:0 0;">C</div>
<div class="lb" style="left:703.2px;top:255.6px;width:14.6px;height:19.0px;"></div><div style="position:absolute;left:706.70px;top:259.77px;font-size:11.5px;line-height:11.5px;font-weight:bold;color:#dcfcf7;white-space:nowrap;transform:scaleX(0.8854);transform-origin:0 0;">D</div>
<div class="lb" style="left:305.1px;top:274.9px;width:35.5px;height:18.8px;"></div><div style="position:absolute;left:308.45px;top:277.84px;font-size:12px;line-height:12px;font-weight:bold;color:#dcfcf7;white-space:nowrap;transform:scaleX(0.9576);transform-origin:0 0;">0.483</div>
<div class="lb" style="left:437.8px;top:238.6px;width:36.1px;height:18.2px;"></div><div style="position:absolute;left:441.45px;top:241.54px;font-size:12px;line-height:12px;font-weight:bold;color:#dcfcf7;white-space:nowrap;transform:scaleX(0.9544);transform-origin:0 0;">0.761</div>
<div class="lb" style="left:558.7px;top:306.9px;width:35.9px;height:19.0px;"></div><div style="position:absolute;left:561.98px;top:309.84px;font-size:12px;line-height:12px;font-weight:bold;color:#dcfcf7;white-space:nowrap;transform:scaleX(0.9700);transform-origin:0 0;">1.437</div>
<div class="lb" style="left:400.8px;top:492.3px;width:35.9px;height:18.4px;"></div><div style="position:absolute;left:404.09px;top:495.24px;font-size:12px;line-height:12px;font-weight:bold;color:#dcfcf7;white-space:nowrap;transform:scaleX(0.9548);transform-origin:0 0;">1.314</div>
<div style="position:absolute;left:884.72px;top:209.11px;font-size:10.5px;line-height:10.5px;font-weight:normal;color:#7aa39c;white-space:nowrap;transform:scaleX(1.0987);transform-origin:0 0;-webkit-text-stroke:0.25px #7aa39c;">1 (1.4465)</div>
<div style="position:absolute;left:861.75px;top:274.61px;font-size:10.5px;line-height:10.5px;font-weight:normal;color:#7aa39c;white-space:nowrap;transform:scaleX(1.1065);transform-origin:0 0;-webkit-text-stroke:0.25px #7aa39c;">0.786 (1.3535)</div>
<div style="position:absolute;left:817.9px;top:600.3px;width:113px;height:39.4px;background:#141414;"></div>
<div style="position:absolute;left:823.97px;top:604.84px;font-size:28.3px;line-height:28.3px;font-weight:bold;color:#fff;white-space:nowrap;transform:scaleX(0.9213);transform-origin:0 0;">WLD-4H</div>
<div style="position:absolute;left:33.03px;top:727.22px;font-size:12.5px;line-height:12.5px;font-weight:normal;color:#2a2e39;white-space:nowrap;transform:scaleX(0.9643);transform-origin:0 0;-webkit-text-stroke:0.25px #2a2e39;">TradingView</div>
<svg width="1024" height="750" style="position:absolute;left:0;top:0"><line x1="9.5" x2="961" y1="488.7" y2="488.7" stroke="#000" stroke-width="2" stroke-dasharray="2 3.785"/></svg>
</body></html>
